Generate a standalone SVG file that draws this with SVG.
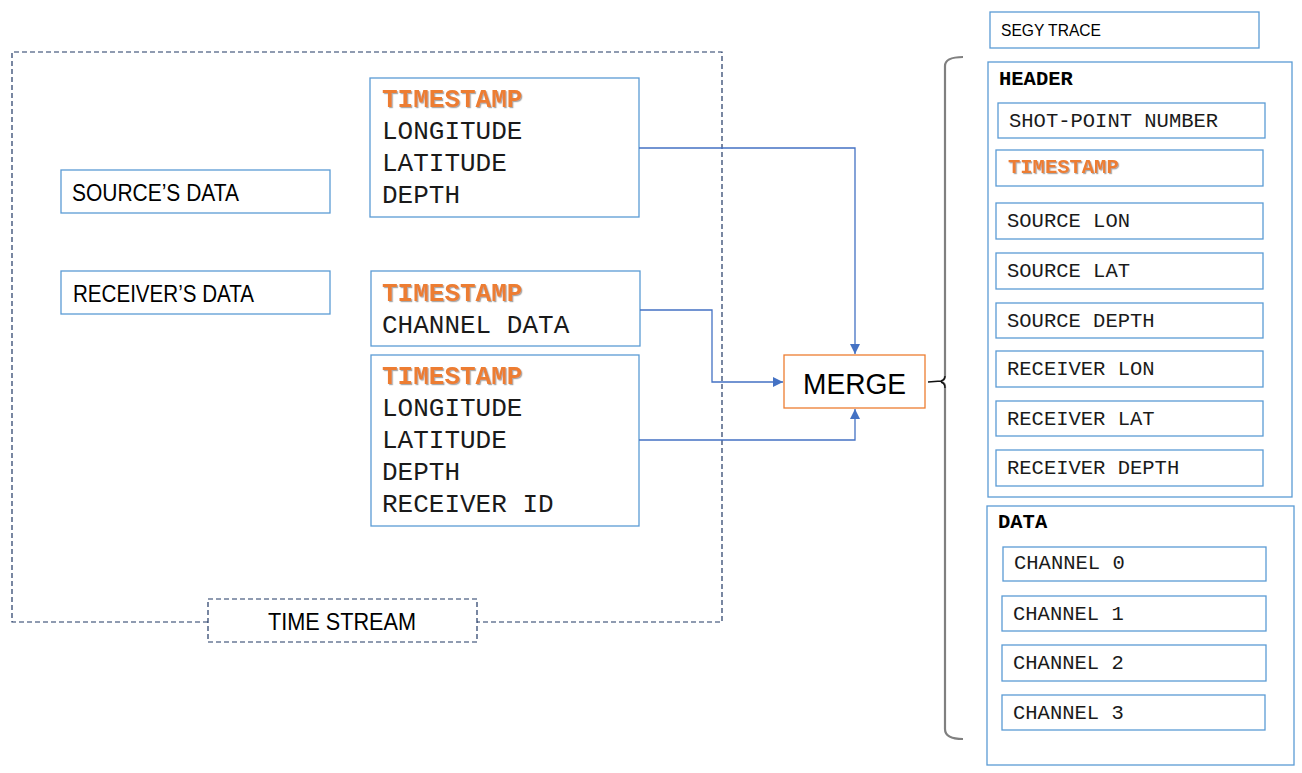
<svg xmlns="http://www.w3.org/2000/svg" width="1302" height="773" viewBox="0 0 1302 773">
<defs>
<style>
.box{fill:#fff;stroke:#5B9BD5;stroke-width:1.3}
.mono{font-family:"Liberation Mono","Courier New",monospace;fill:#1a1a1a}
.big{font-size:26px}
.sm{font-size:20.5px}
.ts{fill:#ED7D31;font-weight:bold;filter:url(#sh)}
.bold{font-weight:bold;fill:#000}
.sans{font-family:"Liberation Sans",Arial,sans-serif;fill:#000}
.dash{fill:none;stroke:#203864;stroke-width:1.2;stroke-dasharray:5 3}
.conn{fill:none;stroke:#4472C4;stroke-width:1.3}
</style>
<filter id="sh" x="-5%" y="-20%" width="110%" height="150%">
<feDropShadow dx="1.2" dy="1.2" stdDeviation="0.6" flood-color="#888" flood-opacity="0.7"/>
</filter>
<marker id="arr" viewBox="0 0 10 10" refX="10" refY="5" markerWidth="10" markerHeight="10" markerUnits="userSpaceOnUse" orient="auto">
<path d="M0,0 L10,5 L0,10 z" fill="#4472C4"/>
</marker>
</defs>
<rect width="1302" height="773" fill="#fff"/>

<g id="time-stream-frame">
<path class="dash" d="M208,622 H12 V52 H722 V622 H477"/>
</g>
<g id="time-stream">
<rect x="208" y="599" width="269" height="43" fill="#fff" class="dash"/>
<text class="sans" x="268" y="630" font-size="24" textLength="148" lengthAdjust="spacingAndGlyphs">TIME STREAM</text>
</g>

<g id="source-data">
<rect class="box" x="61" y="170" width="269" height="43"/>
<text class="sans" x="72" y="201" font-size="24" textLength="167" lengthAdjust="spacingAndGlyphs">SOURCE’S DATA</text>
</g>
<g id="receiver-data">
<rect class="box" x="61" y="271" width="269" height="43"/>
<text class="sans" x="73" y="302" font-size="24" textLength="181" lengthAdjust="spacingAndGlyphs">RECEIVER’S DATA</text>
</g>

<g id="source-fields">
<rect class="box" x="370" y="78" width="269" height="139"/>
<text class="mono big ts" x="382" y="107">TIMESTAMP</text>
<text class="mono big" x="382" y="139">LONGITUDE</text>
<text class="mono big" x="382" y="171">LATITUDE</text>
<text class="mono big" x="382" y="203">DEPTH</text>
</g>
<g id="channel-fields">
<rect class="box" x="371" y="271" width="269" height="75"/>
<text class="mono big ts" x="382" y="301">TIMESTAMP</text>
<text class="mono big" x="382" y="333">CHANNEL DATA</text>
</g>
<g id="receiver-fields">
<rect class="box" x="371" y="355" width="268" height="171"/>
<text class="mono big ts" x="382" y="384">TIMESTAMP</text>
<text class="mono big" x="382" y="416">LONGITUDE</text>
<text class="mono big" x="382" y="448">LATITUDE</text>
<text class="mono big" x="382" y="480">DEPTH</text>
<text class="mono big" x="382" y="512">RECEIVER ID</text>
</g>

<g id="merge">
<rect x="784" y="355" width="141" height="53" fill="#fff" stroke="#ED7D31" stroke-width="1.3"/>
<text class="sans" x="803" y="394" font-size="30" textLength="103" lengthAdjust="spacingAndGlyphs">MERGE</text>
</g>

<g id="connectors">
<path class="conn" d="M639,148 H855 V354" marker-end="url(#arr)"/>
<path class="conn" d="M640,310 H712 V382 H783" marker-end="url(#arr)"/>
<path class="conn" d="M639,440 H855 V409" marker-end="url(#arr)"/>
<path d="M963,57 Q945,57 945,66 V376 Q945,380 941,381" fill="none" stroke="#808080" stroke-width="2.2"/>
<path d="M945,386 Q945,383 941,382 M945,386 V729 Q945,739 963,739" fill="none" stroke="#808080" stroke-width="2.2"/>
<path d="M928,382 L941,381 Q945,380 945,376 M941,382 Q945,383 945,388" fill="none" stroke="#111" stroke-width="1.3"/>
</g>

<g id="segy-trace">
<rect class="box" x="990" y="12" width="269" height="36"/>
<text class="sans" x="1001" y="36" font-size="17" textLength="100" lengthAdjust="spacingAndGlyphs">SEGY TRACE</text>
</g>

<g id="header">
<rect class="box" x="988" y="62" width="304" height="435"/>
<text class="mono sm bold" x="999" y="85">HEADER</text>
</g>
<g id="shot-point">
<rect class="box" x="998" y="103" width="267" height="35"/>
<text class="mono sm" x="1009" y="127">SHOT-POINT NUMBER</text>
</g>
<g id="h-timestamp">
<rect class="box" x="996" y="150" width="267" height="36"/>
<text class="mono sm ts" x="1008" y="173">TIMESTAMP</text>
</g>
<g id="source-lon">
<rect class="box" x="996" y="203" width="267" height="36"/>
<text class="mono sm" x="1007" y="227">SOURCE LON</text>
</g>
<g id="source-lat">
<rect class="box" x="996" y="253" width="267" height="36"/>
<text class="mono sm" x="1007" y="277">SOURCE LAT</text>
</g>
<g id="source-depth">
<rect class="box" x="996" y="303" width="267" height="35"/>
<text class="mono sm" x="1007" y="327">SOURCE DEPTH</text>
</g>
<g id="receiver-lon">
<rect class="box" x="996" y="351" width="267" height="36"/>
<text class="mono sm" x="1007" y="375">RECEIVER LON</text>
</g>
<g id="receiver-lat">
<rect class="box" x="996" y="401" width="267" height="35"/>
<text class="mono sm" x="1007" y="425">RECEIVER LAT</text>
</g>
<g id="receiver-depth">
<rect class="box" x="996" y="450" width="267" height="36"/>
<text class="mono sm" x="1007" y="474">RECEIVER DEPTH</text>
</g>

<g id="data">
<rect class="box" x="987" y="506" width="307" height="259"/>
<text class="mono sm bold" x="998" y="528">DATA</text>
</g>
<g id="channel-0">
<rect class="box" x="1003" y="547" width="263" height="34"/>
<text class="mono sm" x="1014" y="569">CHANNEL 0</text>
</g>
<g id="channel-1">
<rect class="box" x="1002" y="596" width="264" height="35"/>
<text class="mono sm" x="1013" y="620">CHANNEL 1</text>
</g>
<g id="channel-2">
<rect class="box" x="1002" y="645" width="264" height="36"/>
<text class="mono sm" x="1013" y="669">CHANNEL 2</text>
</g>
<g id="channel-3">
<rect class="box" x="1002" y="695" width="263" height="35"/>
<text class="mono sm" x="1013" y="719">CHANNEL 3</text>
</g>
</svg>
